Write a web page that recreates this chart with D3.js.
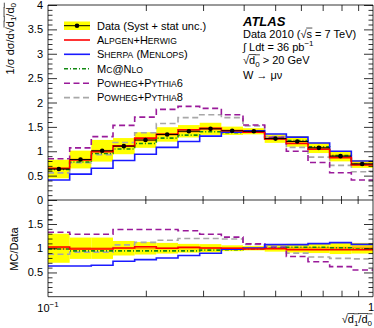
<!DOCTYPE html>
<html><head><meta charset="utf-8">
<script src="https://cdn.jsdelivr.net/npm/d3@7"></script>
<style>body{margin:0;background:#fff}svg{display:block}text{font-family:"Liberation Sans",Arial,Helvetica,sans-serif}</style>
</head><body><svg id="c" width="374" height="328"></svg>
<script>
// ---------------- data ----------------
const binEdges = [0.1, 0.1166, 0.1359, 0.1585, 0.1848, 0.2154, 0.2512, 0.2929, 0.3415, 0.3981, 0.4642, 0.5412, 0.6310, 0.7356, 0.8577, 1.0];
const dataVals = [0.635, 0.83, 1.01, 1.105, 1.23, 1.345, 1.41, 1.46, 1.42, 1.41, 1.26, 1.20, 1.07, 0.90, 0.74];
const systRel  = [0.30, 0.22, 0.22, 0.15, 0.13, 0.11, 0.09, 0.085, 0.06, 0.045, 0.07, 0.09, 0.10, 0.12, 0.11];
const statRel  = [0.03, 0.025, 0.02, 0.02, 0.02, 0.02, 0.02, 0.02, 0.02, 0.02, 0.02, 0.02, 0.025, 0.03, 0.035];

const alpgenTop  = [0.65, 0.82, 0.99, 1.11, 1.27, 1.35, 1.44, 1.47, 1.42, 1.39, 1.25, 1.16, 1.04, 0.87, 0.72];
const sherpaTop  = [0.41, 0.53, 0.65, 0.81, 0.94, 1.08, 1.20, 1.31, 1.39, 1.42, 1.355, 1.29, 1.17, 1.00, 0.80];
const mcnloTop   = [0.625, 0.78, 0.955, 1.045, 1.16, 1.27, 1.33, 1.40, 1.38, 1.40, 1.26, 1.22, 1.09, 0.91, 0.73];
const powheg6Top = [0.845, 1.07, 1.30, 1.53, 1.70, 1.86, 1.92, 1.88, 1.75, 1.54, 1.285, 1.00, 0.77, 0.56, 0.41];
const powheg8Top = [0.556, 0.764, 0.93, 1.18, 1.38, 1.57, 1.69, 1.75, 1.69, 1.52, 1.30, 1.08, 0.88, 0.71, 0.58];

const alpgenRatio  = [1.027, 0.985, 0.985, 1.005, 1.03, 1.0, 1.02, 1.005, 1.0, 0.985, 0.99, 0.97, 0.97, 0.97, 0.97];
const sherpaRatio  = [0.634, 0.634, 0.648, 0.73, 0.765, 0.80, 0.85, 0.895, 0.98, 1.006, 1.075, 1.075, 1.095, 1.115, 1.08];
const mcnloRatio   = [0.985, 0.945, 0.945, 0.945, 0.945, 0.945, 0.945, 0.96, 0.97, 0.99, 1.0, 1.02, 1.02, 1.01, 0.985];
const powheg6Ratio = [1.33, 1.29, 1.29, 1.385, 1.385, 1.385, 1.36, 1.29, 1.23, 1.09, 1.02, 0.83, 0.72, 0.62, 0.55];
const powheg8Ratio = [0.875, 0.92, 0.92, 1.07, 1.12, 1.165, 1.20, 1.20, 1.19, 1.08, 1.03, 0.90, 0.82, 0.79, 0.78];

const seriesNames = ["Alpgen+Herwig", "Sherpa (Menlops)", "Mc@Nlo", "Powheg+Pythia6", "Powheg+Pythia8"];
const dataLabel = "Data (Syst + stat unc.)";
const yTopTicks = [0, 0.5, 1, 1.5, 2, 2.5, 3, 3.5, 4];
const yRatioTicks = [0.5, 1, 1.5];
const xMajorTicks = [0.2, 0.3, 0.4, 0.5, 0.6, 0.7, 0.8, 0.9];
const xTickLabels = [{v: 0.1, base: "10", sup: "\u22121"}, {v: 1, base: "1", sup: ""}];

// ---------------- styles ----------------
const styles = [
  {top: alpgenTop,  ratio: alpgenRatio,  color: "#ff0000", dash: null},
  {top: sherpaTop,  ratio: sherpaRatio,  color: "#1a1aff", dash: null},
  {top: mcnloTop,   ratio: mcnloRatio,   color: "#138a13", dash: "4,2,1,2"},
  {top: powheg6Top, ratio: powheg6Ratio, color: "#9a1a9a", dash: "6,3.5"},
  {top: powheg8Top, ratio: powheg8Ratio, color: "#a8a8a8", dash: "6,3.5"}
];
const drawOrder = [4, 3, 2, 1, 0];

const svg = d3.select("#c");
const X0 = 48, X1 = 373;
const x = d3.scaleLog().domain([0.1, 1]).range([X0, X1]);
const yT = d3.scaleLinear().domain([0, 4]).range([200, 5]);
const yR = d3.scaleLinear().domain([0, 1.5]).range([296.7, 224]);

const defs = svg.append("defs");
defs.append("clipPath").attr("id", "clipT").append("rect").attr("x", X0).attr("y", 5).attr("width", X1 - X0).attr("height", 195);
defs.append("clipPath").attr("id", "clipR").append("rect").attr("x", X0).attr("y", 210).attr("width", X1 - X0).attr("height", 86.7);

const idx = d3.range(dataVals.length);
function stairs(vals, y) {
  const pts = idx.map(i => [binEdges[i], vals[i]]);
  pts.push([binEdges[binEdges.length - 1], vals[vals.length - 1]]);
  return d3.line().x(d => x(d[0])).y(d => y(d[1])).curve(d3.curveStepAfter)(pts);
}

// ---------------- top panel ----------------
const gT = svg.append("g").attr("clip-path", "url(#clipT)");
gT.selectAll("rect.syst").data(idx).join("rect").attr("class", "syst")
  .attr("x", i => x(binEdges[i])).attr("width", i => x(binEdges[i + 1]) - x(binEdges[i]))
  .attr("y", i => yT(dataVals[i] * (1 + systRel[i])))
  .attr("height", i => yT(dataVals[i] * (1 - systRel[i])) - yT(dataVals[i] * (1 + systRel[i])))
  .attr("fill", "#ffff00");
gT.selectAll("rect.stat").data(idx).join("rect").attr("class", "stat")
  .attr("x", i => x(binEdges[i])).attr("width", i => x(binEdges[i + 1]) - x(binEdges[i]))
  .attr("y", i => yT(dataVals[i] * (1 + statRel[i])))
  .attr("height", i => yT(dataVals[i] * (1 - statRel[i])) - yT(dataVals[i] * (1 + statRel[i])))
  .attr("fill", "#ffa500");
drawOrder.forEach(k => {
  const s = styles[k];
  gT.append("path").attr("d", stairs(s.top, yT)).attr("fill", "none")
    .attr("stroke", s.color).attr("stroke-width", 1.6).attr("stroke-dasharray", s.dash);
});
gT.selectAll("line.dh").data(idx).join("line").attr("class", "dh")
  .attr("x1", i => x(binEdges[i])).attr("x2", i => x(binEdges[i + 1]))
  .attr("y1", i => yT(dataVals[i])).attr("y2", i => yT(dataVals[i]))
  .attr("stroke", "#000").attr("stroke-width", 1);
gT.selectAll("circle.dp").data(idx).join("circle").attr("class", "dp")
  .attr("cx", i => x(Math.sqrt(binEdges[i] * binEdges[i + 1]))).attr("cy", i => yT(dataVals[i]))
  .attr("r", 2.3).attr("fill", "#000");

// ---------------- ratio panel ----------------
const gR = svg.append("g").attr("clip-path", "url(#clipR)");
gR.selectAll("rect.syst").data(idx).join("rect").attr("class", "syst")
  .attr("x", i => x(binEdges[i])).attr("width", i => x(binEdges[i + 1]) - x(binEdges[i]))
  .attr("y", i => yR(1 + systRel[i])).attr("height", i => yR(1 - systRel[i]) - yR(1 + systRel[i]))
  .attr("fill", "#ffff00");
gR.selectAll("rect.stat").data(idx).join("rect").attr("class", "stat")
  .attr("x", i => x(binEdges[i])).attr("width", i => x(binEdges[i + 1]) - x(binEdges[i]))
  .attr("y", i => yR(1 + statRel[i])).attr("height", i => yR(1 - statRel[i]) - yR(1 + statRel[i]))
  .attr("fill", "#ffa500");
drawOrder.forEach(k => {
  const s = styles[k];
  gR.append("path").attr("d", stairs(s.ratio, yR)).attr("fill", "none")
    .attr("stroke", s.color).attr("stroke-width", 1.6).attr("stroke-dasharray", s.dash);
});

// ---------------- axes ----------------
const axG = svg.append("g");
function axisAt(axis, tr) {
  const g = axG.append("g").attr("transform", tr).call(axis);
  g.select(".domain").remove();
  g.selectAll("line").attr("stroke", "#000").attr("stroke-width", 0.8);
  g.selectAll("text").attr("font-size", 11).attr("fill", "#000").style("font-family", "Liberation Sans, Arial, sans-serif");
  return g;
}
const fmt = d => String(d);
const topMinor = d3.range(-4, 40).map(d => d / 10).filter(v => Math.abs(v * 2 - Math.round(v * 2)) > 1e-6);
const ratMinor = d3.range(1, 18).map(d => d / 10).filter(v => Math.abs(v * 2 - Math.round(v * 2)) > 1e-6);
// top y
axisAt(d3.axisLeft(yT).tickValues(yTopTicks).tickSize(-9).tickPadding(5).tickFormat(fmt), `translate(${X0},0)`);
axisAt(d3.axisLeft(yT).tickValues(topMinor).tickSize(-4.5).tickFormat(""), `translate(${X0},0)`);
axisAt(d3.axisRight(yT).tickValues(yTopTicks.filter(v => v > 0)).tickSize(-9).tickFormat(""), `translate(${X1},0)`);
axisAt(d3.axisRight(yT).tickValues(topMinor.filter(v => v > 0)).tickSize(-4.5).tickFormat(""), `translate(${X1},0)`);
axisAt(d3.axisTop(x).tickValues(xMajorTicks).tickSize(-6).tickFormat(""), `translate(0,5)`);
// x line at y=0 with crossing ticks
axG.append("line").attr("x1", X0).attr("x2", X1).attr("y1", yT(0)).attr("y2", yT(0)).attr("stroke", "#000").attr("stroke-width", 0.8);
axG.selectAll("line.zt").data(xMajorTicks).join("line").attr("class", "zt")
  .attr("x1", d => x(d)).attr("x2", d => x(d)).attr("y1", yT(0) - 4).attr("y2", yT(0) + 4)
  .attr("stroke", "#000").attr("stroke-width", 0.8);
// ratio y
axisAt(d3.axisLeft(yR).tickValues(yRatioTicks).tickSize(-9).tickPadding(5).tickFormat(fmt), `translate(${X0},0)`);
axisAt(d3.axisLeft(yR).tickValues(ratMinor).tickSize(-4.5).tickFormat(""), `translate(${X0},0)`);
axisAt(d3.axisRight(yR).tickValues(yRatioTicks).tickSize(-9).tickFormat(""), `translate(${X1},0)`);
axisAt(d3.axisRight(yR).tickValues(ratMinor).tickSize(-4.5).tickFormat(""), `translate(${X1},0)`);
axisAt(d3.axisBottom(x).tickValues(xMajorTicks).tickSize(-6).tickFormat(""), `translate(0,${yR(0)})`);
// frame lines
axG.append("line").attr("x1", X0).attr("x2", X0).attr("y1", 5).attr("y2", yR(0)).attr("stroke", "#000").attr("stroke-width", 0.8);
axG.append("line").attr("x1", X1).attr("x2", X1).attr("y1", 5).attr("y2", yR(0)).attr("stroke", "#000").attr("stroke-width", 0.8);
axG.append("line").attr("x1", X0).attr("x2", X1).attr("y1", 5).attr("y2", 5).attr("stroke", "#000").attr("stroke-width", 0.8);
axG.append("line").attr("x1", X0).attr("x2", X1).attr("y1", yR(0)).attr("y2", yR(0)).attr("stroke", "#000").attr("stroke-width", 0.8);

// ---------------- rich text helper ----------------
function rich(parent, x0, y0, parts, anchor) {
  const g = parent.append("g");
  let cx = 0; const overs = [];
  parts.forEach(p => {
    const t = g.append("text").attr("x", cx).attr("y", p.dy || 0).attr("font-size", p.s || 11)
      .attr("fill", "#000").style("white-space", "pre").text(p.t);
    if (p.w) t.attr("font-weight", p.w);
    if (p.it) t.attr("font-style", "italic");
    const w = t.node().getComputedTextLength();
    if (p.over) overs.push([cx, cx + w, (p.dy || 0) - (p.s || 11) * 0.86]);
    cx += w;
  });
  overs.forEach(o => g.append("line").attr("x1", o[0] - 0.3).attr("x2", o[1] + 0.3).attr("y1", Math.min(o[2], -9.2)).attr("y2", Math.min(o[2], -9.2)).attr("stroke", "#000").attr("stroke-width", 0.7));
  let off = 0;
  if (anchor === "end") off = -cx; else if (anchor === "middle") off = -cx / 2;
  g.attr("transform", `translate(${x0 + off},${y0})`);
  return g;
}
function smallCaps(str, big, small) {
  const parts = [];
  for (const ch of str) {
    if (ch >= "a" && ch <= "z") {
      const last = parts[parts.length - 1];
      if (last && last.s === small) last.t += ch.toUpperCase(); else parts.push({t: ch.toUpperCase(), s: small});
    } else {
      const last = parts[parts.length - 1];
      if (last && last.s === big) last.t += ch; else parts.push({t: ch, s: big});
    }
  }
  return parts;
}

// ---------------- legend ----------------
const leg = svg.append("g");
const legY = [25.7, 40, 54.3, 68.8, 83.2, 97.6];
leg.append("rect").attr("x", 64).attr("y", 21.5).attr("width", 26).attr("height", 8.5).attr("fill", "#ffff00");
leg.append("line").attr("x1", 64).attr("x2", 90).attr("y1", legY[0]).attr("y2", legY[0]).attr("stroke", "#000").attr("stroke-width", 1);
leg.append("circle").attr("cx", 77).attr("cy", legY[0]).attr("r", 2.3).attr("fill", "#000");
rich(leg, 97, legY[0] + 3.8, [{t: dataLabel, s: 11}]);
seriesNames.forEach((name, k) => {
  const s = styles[k], yy = legY[k + 1];
  leg.append("line").attr("x1", 64).attr("x2", 90).attr("y1", yy).attr("y2", yy)
    .attr("stroke", s.color).attr("stroke-width", 1.6).attr("stroke-dasharray", s.dash);
  rich(leg, 97, yy + 3.8, smallCaps(name, 11, 8.6));
});

// ---------------- ATLAS block ----------------
const at = svg.append("g");
rich(at, 243, 26, [{t: "ATLAS", s: 13, w: "bold", it: true}]);
rich(at, 243, 37.5, [{t: "Data 2010 (", s: 11}, {t: "\u221a", s: 11}, {t: "s", s: 11, over: true}, {t: " = 7 TeV)", s: 11}]);
rich(at, 243, 50.5, [{t: "\u222b", s: 11}, {t: " Ldt = 36 pb", s: 11}, {t: "\u22121", s: 8, dy: -4.5}]);
rich(at, 243, 64, [{t: "\u221a", s: 11}, {t: "d", s: 11, over: true}, {t: "0", s: 8, dy: 2.5, over: true}, {t: " > 20 GeV", s: 11}]);
rich(at, 243, 79, [{t: "W \u2192 \u03bc\u03bd", s: 11}]);

// ---------------- axis labels ----------------
xTickLabels.forEach(l => {
  if (l.sup) rich(svg, x(l.v), 312, [{t: l.base, s: 11}, {t: l.sup, s: 8, dy: -5}], "middle");
  else rich(svg, x(l.v) - 2, 311, [{t: l.base, s: 11}], "middle");
});
rich(svg, 372, 323, [{t: "\u221a", s: 11}, {t: "d", s: 11, over: true}, {t: "1", s: 8, dy: 2.5, over: true}, {t: "/d", s: 11, over: true}, {t: "0", s: 8, dy: 2.5, over: true}], "end");

const yt = svg.append("g").attr("transform", "translate(13.5,3) rotate(-90)");
rich(yt, 0, 0, [{t: "1/\u03c3 d\u03c3/d", s: 11}, {t: "\u221a", s: 11}, {t: "d", s: 11, over: true}, {t: "1", s: 8, dy: 2.5, over: true}, {t: "/d", s: 11, over: true}, {t: "0", s: 8, dy: 2.5, over: true}], "end");
const yr = svg.append("g").attr("transform", "translate(17.5,249) rotate(-90)");
rich(yr, 0, 0, [{t: "MC/Data", s: 11}], "middle");
</script></body></html>
